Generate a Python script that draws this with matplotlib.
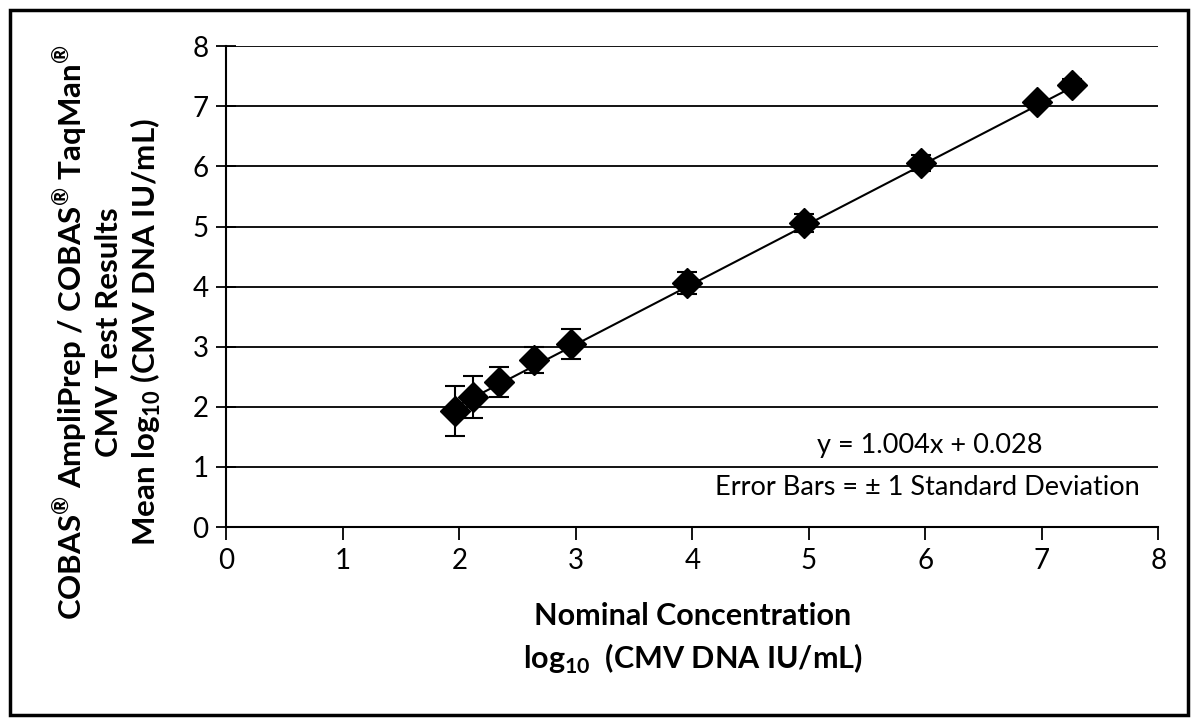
import matplotlib
matplotlib.use("Agg")
import numpy as np
import matplotlib.pyplot as plt
from matplotlib.patches import Rectangle

nominal = [1.96, 2.12, 2.34, 2.64, 2.96, 3.95, 4.96, 5.96, 6.96, 7.26]
measured = [1.93, 2.16, 2.42, 2.78, 3.05, 4.06, 5.06, 6.06, 7.07, 7.35]
sd = [0.42, 0.35, 0.25, 0.22, 0.25, 0.18, 0.15, 0.13, 0.05, 0.10]
slope = 1.004
intercept = 0.028

plt.rcParams['font.family'] = ['Lato', 'DejaVu Sans']
plt.rcParams['mathtext.fontset'] = 'custom'
plt.rcParams['mathtext.rm'] = 'Lato'
plt.rcParams['mathtext.bf'] = 'Lato:bold'

fig = plt.figure(figsize=(11.98, 7.22), dpi=100)
ax = fig.add_axes([0.189, 0.270, 0.778, 0.666])

# frame around whole figure
fig.patches.append(Rectangle((0.008, 0.01), 0.984, 0.976, transform=fig.transFigure,
                             fill=False, edgecolor='black', lw=2.5))

for yv in range(1, 9):
    ax.axhline(yv, color='black', lw=1.3, zorder=1)

xfit = np.array([nominal[0], nominal[-1]])
ax.plot(xfit, slope * xfit + intercept, color='black', lw=1.5, zorder=2)
ax.errorbar(nominal, measured, yerr=sd, fmt='D', color='black', ms=15,
            ecolor='black', elinewidth=1.5, capsize=7, capthick=1.5, zorder=3)

ax.set_xlim(0, 8)
ax.set_ylim(0, 8)
ax.set_xticks(range(0, 9))
ax.set_yticks(range(0, 9))
ax.tick_params(labelsize=20, width=1.3)
ax.tick_params(axis='x', direction='out', length=9, pad=6)
ax.tick_params(axis='y', direction='inout', length=14, pad=6)
for s in ['top', 'right']:
    ax.spines[s].set_visible(False)
for s in ['left', 'bottom']:
    ax.spines[s].set_linewidth(1.5)

ax.set_xlabel('Nominal Concentration\n' + r'log$_{\mathbf{10}}$  (CMV DNA IU/mL)',
              fontsize=22, fontweight='bold', labelpad=20, linespacing=1.45)
ax.set_ylabel(r'COBAS$^{\mathbf{®}}$ AmpliPrep / COBAS$^{\mathbf{®}}$ TaqMan$^{\mathbf{®}}$' + '\n'
              + 'CMV Test Results\n' + r'Mean log$_{\mathbf{10}}$ (CMV DNA IU/mL)',
              fontsize=22.5, fontweight='bold', linespacing=1.2, va='center')
ax.yaxis.set_label_coords(-0.128, 0.405)

ax.text(6.04, 1.36, 'y = 1.004x + 0.028', fontsize=19.5, ha='center', va='center')
ax.text(7.84, 0.65, 'Error Bars = ± 1 Standard Deviation', fontsize=19.5,
        ha='right', va='center')

fig.savefig('out.png', dpi=100)
